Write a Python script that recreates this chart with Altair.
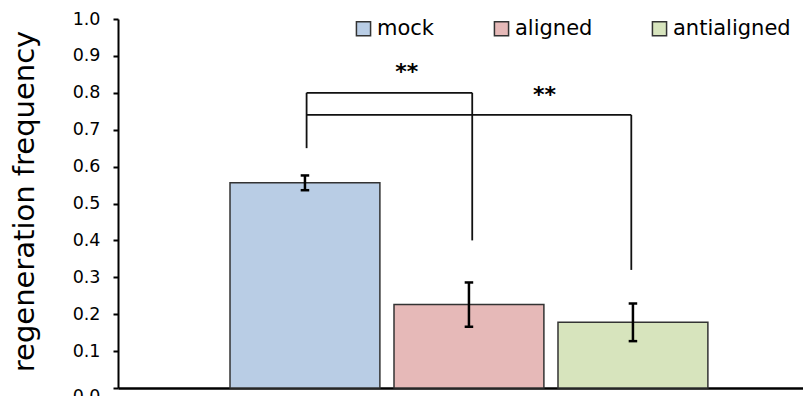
import altair as alt
import pandas as pd

# ---- data ----
groups = ["mock", "aligned", "antialigned"]
positions = [1, 2, 3]
means = [0.556, 0.226, 0.178]
errors = [0.020, 0.060, 0.051]
colors = ["#B9CDE5", "#E6B9B8", "#D7E4BD"]

y_ticks = [0.0, 0.1, 0.2, 0.3, 0.4, 0.5, 0.6, 0.7, 0.8, 0.9, 1.0]

# significance brackets (segments in data coordinates)
seg_x = [1.01, 1.01, 2.02, 1.01, 2.99]
seg_x2 = [2.02, 1.01, 2.02, 2.99, 2.99]
seg_y = [0.80, 0.65, 0.40, 0.74, 0.32]
seg_y2 = [0.80, 0.80, 0.80, 0.74, 0.74]

star_x = [1.62, 2.46]
star_y = [0.837, 0.775]
star_text = ["**", "**"]

FONT = "DejaVu Sans"

bars_df = pd.DataFrame({"group": groups, "pos": positions, "mean": means, "err": errors})
seg_df = pd.DataFrame({"x": seg_x, "x2": seg_x2, "y": seg_y, "y2": seg_y2})
star_df = pd.DataFrame({"x": star_x, "y": star_y, "t": star_text})

xscale = alt.Scale(domain=[-0.14, 4.037], nice=False, zero=False)
yscale = alt.Scale(domain=[0, 1], nice=False)

yaxis = alt.Axis(
    title="regeneration frequency",
    values=y_ticks,
    labelOverlap=False,
    format=".1f",
    grid=False,
    domainColor="black",
    domainWidth=2,
    tickColor="black",
    tickWidth=2,
    tickSize=5,
    labelFont=FONT,
    labelFontSize=17.5,
    labelColor="black",
    labelPadding=13,
    labelOffset={"condition": {"test": "datum.value === 0", "value": 8}, "value": 0},
    titleFont=FONT,
    titleFontSize=29,
    titleFontWeight="normal",
    titleColor="black",
    titleAngle=270,
    titleX=-84.5,
    titleY=182,
    titleAlign="center",
    titleBaseline="alphabetic",
)

xaxis = alt.Axis(
    title=None,
    labels=False,
    ticks=False,
    grid=False,
    domainColor="black",
    domainWidth=2.5,
)

base = alt.Chart(bars_df)

bars = base.transform_calculate(
    bx1="datum.pos - 0.457", bx2="datum.pos + 0.457"
).mark_bar(stroke="#333333", strokeWidth=1.5).encode(
    x=alt.X("bx1:Q", scale=xscale, axis=xaxis),
    x2="bx2:Q",
    y=alt.Y("mean:Q", scale=yscale, axis=yaxis),
    y2=alt.datum(0),
    color=alt.Color(
        "group:N",
        scale=alt.Scale(domain=groups, range=colors),
        legend=alt.Legend(
            orient="none",
            legendX=235,
            legendY=-1,
            direction="horizontal",
            title=None,
            symbolType="square",
            symbolSize=200,
            symbolStrokeColor="#333333",
            symbolStrokeWidth=1.5,
            symbolOpacity=1,
            labelFont=FONT,
            labelFontSize=21,
            labelColor="black",
            labelOffset=3,
            columnPadding=56,
            padding=0,
        ),
    ),
)

err_v = base.transform_calculate(
    lo="datum.mean - datum.err", hi="datum.mean + datum.err"
).mark_rule(color="black", strokeWidth=2.5).encode(
    x=alt.X("pos:Q", scale=xscale, axis=xaxis),
    y=alt.Y("lo:Q", scale=yscale, axis=yaxis), y2="hi:Q"
)

err_lo = base.transform_calculate(
    lo="datum.mean - datum.err", c1="datum.pos - 0.026", c2="datum.pos + 0.026"
).mark_rule(color="black", strokeWidth=2.5).encode(
    x=alt.X("c1:Q", scale=xscale, axis=xaxis), x2="c2:Q",
    y=alt.Y("lo:Q", scale=yscale, axis=yaxis)
)

err_hi = base.transform_calculate(
    hi="datum.mean + datum.err", c1="datum.pos - 0.026", c2="datum.pos + 0.026"
).mark_rule(color="black", strokeWidth=2.5).encode(
    x=alt.X("c1:Q", scale=xscale, axis=xaxis), x2="c2:Q",
    y=alt.Y("hi:Q", scale=yscale, axis=yaxis)
)

brackets = alt.Chart(seg_df).mark_rule(color="#111111", strokeWidth=1.8).encode(
    x=alt.X("x:Q", scale=xscale, axis=xaxis), x2="x2:Q",
    y=alt.Y("y:Q", scale=yscale, axis=yaxis), y2="y2:Q"
)

stars = alt.Chart(star_df).mark_text(
    font=FONT, fontSize=22, fontWeight="bold", color="black",
    align="center", baseline="alphabetic"
).encode(
    x=alt.X("x:Q", scale=xscale, axis=xaxis),
    y=alt.Y("y:Q", scale=yscale, axis=yaxis),
    text="t:N",
)

chart = alt.layer(bars, err_v, err_lo, err_hi, brackets, stars).properties(
    width=685,
    height=369,
    padding={"left": 110, "top": 11, "right": 0, "bottom": 16},
    autosize=alt.AutoSizeParams(type="none"),
).configure_view(stroke=None)

chart.save("out.html", embed_options={"renderer": "svg", "actions": False})
